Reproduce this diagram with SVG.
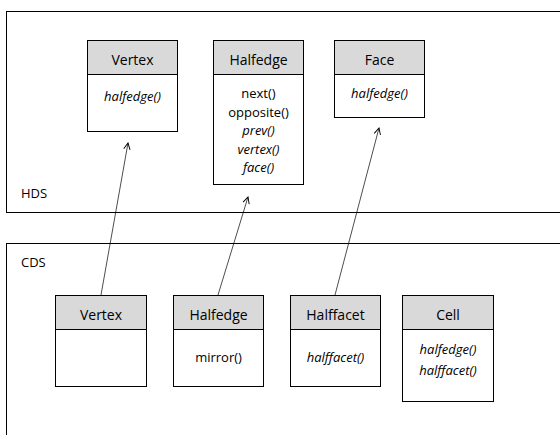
<svg xmlns="http://www.w3.org/2000/svg" width="560" height="435" viewBox="0 0 560 435">
<style>
.frame{fill:#fff;stroke:#000;stroke-width:1}
.box{fill:#fff;stroke:#000;stroke-width:1}
.hdr{fill:#d9d9d9;stroke:#000;stroke-width:1}
text{font-family:"Open Sans","Liberation Sans",sans-serif;font-size:13px;fill:#000}
.t{text-anchor:middle;font-size:14px}
.m{text-anchor:middle;font-size:13px}
.i{font-style:italic}
.conn{stroke:#000;stroke-width:0.7;fill:none;marker-end:url(#arr)}
</style>
<defs>
<marker id="arr" viewBox="0 0 10 10" refX="9" refY="5" markerWidth="8" markerHeight="8" markerUnits="userSpaceOnUse" orient="auto">
<path d="M1,1 L9,5 L1,9" fill="none" stroke="#000" stroke-width="1.2"/>
</marker>
</defs>
<rect width="560" height="435" fill="#fff"/>
<g id="HDS">
<rect class="frame" x="6.5" y="11.5" width="560" height="201"/>
<text x="21" y="198">HDS</text>
</g>
<g id="CDS">
<rect class="frame" x="6.5" y="243.5" width="560" height="200"/>
<text x="21" y="267">CDS</text>
</g>
<g id="hds-vertex">
<rect class="box" x="87.5" y="40.5" width="90" height="91"/>
<rect class="hdr" x="87.5" y="40.5" width="90" height="34"/>
<text class="t" x="132.5" y="65">Vertex</text>
<text class="m i" x="132.5" y="101">halfedge()</text>
</g>
<g id="hds-halfedge">
<rect class="box" x="213.5" y="40.5" width="90" height="144"/>
<rect class="hdr" x="213.5" y="40.5" width="90" height="34"/>
<text class="t" x="258.5" y="65">Halfedge</text>
<text class="m" x="258.5" y="98">next()</text>
<text class="m" x="258.5" y="116.5">opposite()</text>
<text class="m i" x="258.5" y="135">prev()</text>
<text class="m i" x="258.5" y="153.5">vertex()</text>
<text class="m i" x="258.5" y="172">face()</text>
</g>
<g id="hds-face">
<rect class="box" x="334.5" y="40.5" width="90" height="77"/>
<rect class="hdr" x="334.5" y="40.5" width="90" height="34"/>
<text class="t" x="379.5" y="65">Face</text>
<text class="m i" x="379.5" y="98">halfedge()</text>
</g>
<g id="cds-vertex">
<rect class="box" x="55.5" y="295.5" width="91" height="91"/>
<rect class="hdr" x="55.5" y="295.5" width="91" height="34"/>
<text class="t" x="101" y="320">Vertex</text>
</g>
<g id="cds-halfedge">
<rect class="box" x="173.5" y="295.5" width="90" height="91"/>
<rect class="hdr" x="173.5" y="295.5" width="90" height="34"/>
<text class="t" x="218.5" y="320">Halfedge</text>
<text class="m" x="218.5" y="362">mirror()</text>
</g>
<g id="cds-halffacet">
<rect class="box" x="290.5" y="295.5" width="90" height="91"/>
<rect class="hdr" x="290.5" y="295.5" width="90" height="34"/>
<text class="t" x="335.5" y="320">Halffacet</text>
<text class="m i" x="335.5" y="362">halffacet()</text>
</g>
<g id="cds-cell">
<rect class="box" x="402.5" y="295.5" width="91" height="106"/>
<rect class="hdr" x="402.5" y="295.5" width="91" height="34"/>
<text class="t" x="448" y="320">Cell</text>
<text class="m i" x="448" y="354">halfedge()</text>
<text class="m i" x="448" y="375">halffacet()</text>
</g>
<g id="connectors">
<line class="conn" x1="101" y1="295" x2="128" y2="143"/>
<line class="conn" x1="218" y1="295" x2="248" y2="197"/>
<line class="conn" x1="335" y1="295" x2="379" y2="128"/>
</g>
</svg>
